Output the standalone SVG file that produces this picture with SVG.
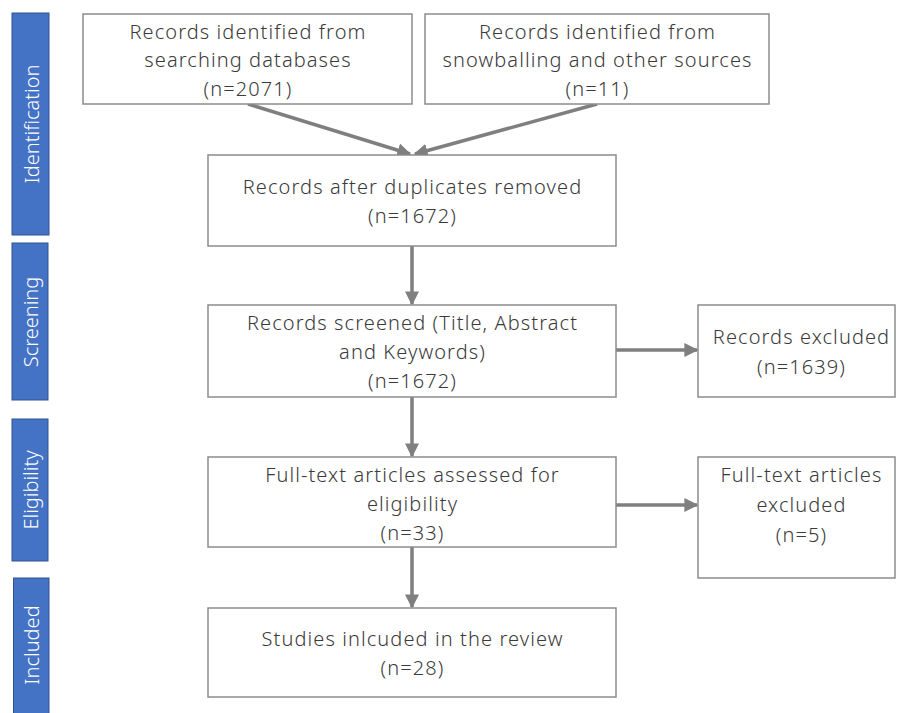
<svg xmlns="http://www.w3.org/2000/svg" width="897" height="713" viewBox="0 0 897 713">
<defs>
<style>
.bar{fill:#4472C4;stroke:#2F528F;stroke-width:1}
.bl{fill:#fff;font-family:"Noto Sans",sans-serif;font-size:20px;font-weight:300;text-anchor:middle;dominant-baseline:central}
.box{fill:#fff;stroke:#8c8c8c;stroke-width:1.5}
.t{fill:#3a3a3a;font-family:"Noto Sans",sans-serif;font-size:20px;font-weight:300;letter-spacing:1.1px;text-anchor:middle;dominant-baseline:central}
.c{stroke:#7f7f7f;stroke-width:3.5;fill:none;marker-end:url(#ah)}
</style>
<marker id="ah" viewBox="0 0 10 10" refX="9" refY="5" markerWidth="4" markerHeight="4" orient="auto" markerUnits="strokeWidth">
<path d="M0,0 L10,5 L0,10 z" fill="#7f7f7f"/>
</marker>
</defs>
<rect width="897" height="713" fill="#fff"/>
<g id="stages">
<g id="stage-identification"><rect class="bar" x="12" y="13" width="37" height="222"/><text class="bl" transform="translate(31,124) rotate(-90)">Identification</text></g>
<g id="stage-screening"><rect class="bar" x="12" y="243" width="36" height="157"/><text class="bl" transform="translate(30,322) rotate(-90)">Screening</text></g>
<g id="stage-eligibility"><rect class="bar" x="12" y="419" width="36" height="142"/><text class="bl" transform="translate(30,490) rotate(-90)">Eligibility</text></g>
<g id="stage-included"><rect class="bar" x="13.5" y="578" width="35.5" height="140"/><text class="bl" transform="translate(31,645) rotate(-90)">Included</text></g>
</g>
<g id="connectors">
<line class="c" x1="248" y1="104" x2="410" y2="154"/>
<line class="c" x1="597" y1="104" x2="415" y2="154"/>
<line class="c" x1="412" y1="246" x2="412" y2="304"/>
<line class="c" x1="412" y1="397" x2="412" y2="456"/>
<line class="c" x1="412" y1="547" x2="412" y2="607"/>
<line class="c" x1="616" y1="350" x2="697" y2="350"/>
<line class="c" x1="616" y1="505" x2="697" y2="505"/>
</g>
<g id="n1"><rect class="box" x="83" y="14" width="329" height="90"/><text class="t" x="248" y="31">Records identified from</text><text class="t" x="248" y="59">searching databases</text><text class="t" x="248" y="88">(n=2071)</text></g>
<g id="n2"><rect class="box" x="425" y="14" width="344" height="90"/><text class="t" x="597.5" y="31">Records identified from</text><text class="t" x="597.5" y="59">snowballing and other sources</text><text class="t" x="597.5" y="88">(n=11)</text></g>
<g id="n3"><rect class="box" x="208" y="155" width="408" height="91"/><text class="t" x="412.5" y="186">Records after duplicates removed</text><text class="t" x="412.5" y="215">(n=1672)</text></g>
<g id="n4"><rect class="box" x="208" y="305" width="408" height="92"/><text class="t" x="412.5" y="322">Records screened (Title, Abstract</text><text class="t" x="412.5" y="351">and Keywords)</text><text class="t" x="412.5" y="380">(n=1672)</text></g>
<g id="n5"><rect class="box" x="698" y="305" width="197" height="92"/><text class="t" x="801.5" y="336">Records excluded</text><text class="t" x="801.5" y="366">(n=1639)</text></g>
<g id="n6"><rect class="box" x="208" y="457" width="408" height="90"/><text class="t" x="412.5" y="474">Full-text articles assessed for</text><text class="t" x="412.5" y="503">eligibility</text><text class="t" x="412.5" y="532">(n=33)</text></g>
<g id="n7"><rect class="box" x="698" y="457" width="197" height="121"/><text class="t" x="801.5" y="474">Full-text articles</text><text class="t" x="801.5" y="504">excluded</text><text class="t" x="801.5" y="534">(n=5)</text></g>
<g id="n8"><rect class="box" x="208" y="608" width="408" height="89"/><text class="t" x="412.5" y="638">Studies inlcuded in the review</text><text class="t" x="412.5" y="667">(n=28)</text></g>
</svg>
